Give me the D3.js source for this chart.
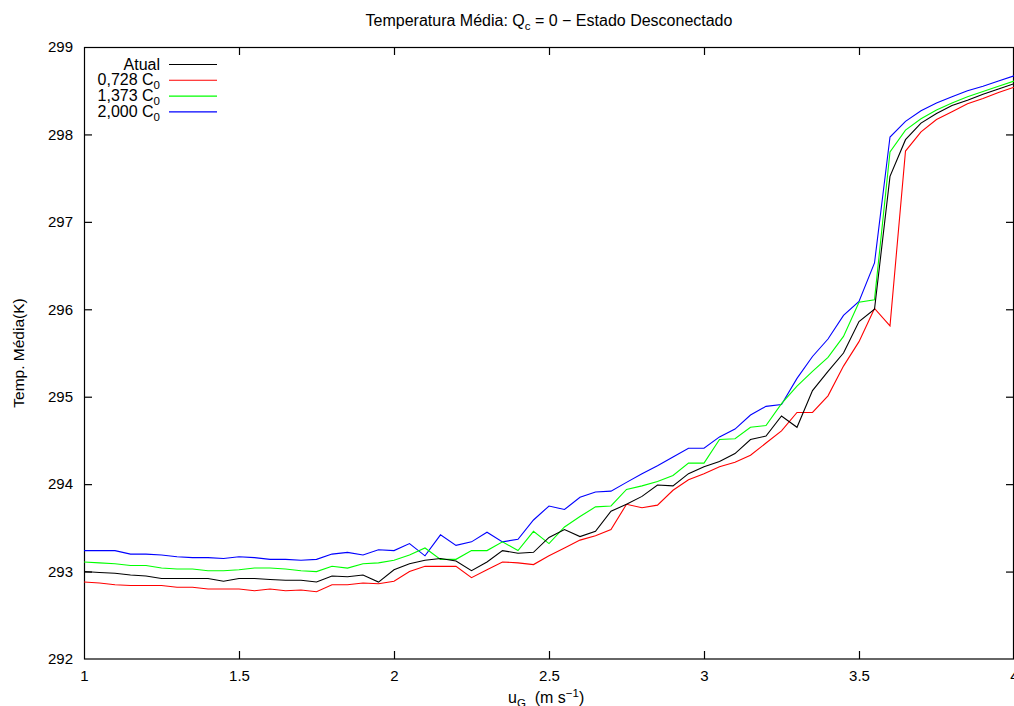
<!DOCTYPE html>
<html>
<head>
<meta charset="utf-8">
<script src="https://cdn.jsdelivr.net/npm/d3@7"></script>
<style>
  html, body { margin: 0; padding: 0; background: #fff; }
  svg { display: block; font-family: "Liberation Sans", Arial, Helvetica, sans-serif; }
</style>
</head>
<body>
<svg id="chart" width="1014" height="706"></svg>
<script>
// Wind speed samples u_G (m/s)
const uG = [
  1.00, 1.05, 1.10, 1.15, 1.20, 1.25, 1.30, 1.35, 1.40, 1.45,
  1.50, 1.55, 1.60, 1.65, 1.70, 1.75, 1.80, 1.85, 1.90, 1.95,
  2.00, 2.05, 2.10, 2.15, 2.20, 2.25, 2.30, 2.35, 2.40, 2.45,
  2.50, 2.55, 2.60, 2.65, 2.70, 2.75, 2.80, 2.85, 2.90, 2.95,
  3.00, 3.05, 3.10, 3.15, 3.20, 3.25, 3.30, 3.35, 3.40, 3.45,
  3.50, 3.55, 3.60, 3.65, 3.70, 3.75, 3.80, 3.85, 3.90, 3.95, 4.00
];

// Mean temperature (K), current coefficient
const atual = [
  293.00, 292.99, 292.98, 292.96, 292.95, 292.92, 292.92, 292.92, 292.92, 292.89,
  292.92, 292.92, 292.91, 292.90, 292.90, 292.88, 292.95, 292.94, 292.96, 292.88,
  293.02, 293.09, 293.13, 293.15, 293.12, 293.01, 293.11, 293.24, 293.21, 293.22,
  293.39, 293.48, 293.40, 293.46, 293.69, 293.77, 293.86, 293.99, 293.98, 294.12,
  294.20, 294.26, 294.35, 294.51, 294.55, 294.78, 294.65, 295.07, 295.29, 295.50,
  295.86, 296.00, 297.52, 297.94, 298.13, 298.24, 298.33, 298.39, 298.46, 298.52, 298.58
];

// 0,728 C0
const c0728 = [
  292.88, 292.87, 292.85, 292.84, 292.84, 292.84, 292.82, 292.82, 292.80, 292.80,
  292.80, 292.78, 292.80, 292.78, 292.79, 292.77, 292.85, 292.85, 292.87, 292.86,
  292.89, 293.00, 293.06, 293.06, 293.06, 292.93, 293.02, 293.11, 293.10, 293.08,
  293.18, 293.27, 293.36, 293.41, 293.48, 293.77, 293.73, 293.76, 293.93, 294.05,
  294.12, 294.20, 294.25, 294.33, 294.47, 294.61, 294.82, 294.82, 295.01, 295.35,
  295.63, 296.01, 295.81, 297.81, 298.03, 298.17, 298.26, 298.35, 298.41, 298.48, 298.54
];

// 1,373 C0
const c1373 = [
  293.11, 293.10, 293.09, 293.07, 293.07, 293.04, 293.03, 293.03, 293.01, 293.01,
  293.02, 293.04, 293.04, 293.03, 293.01, 293.00, 293.06, 293.04, 293.09, 293.10,
  293.13, 293.19, 293.27, 293.14, 293.14, 293.24, 293.24, 293.34, 293.24, 293.46,
  293.32, 293.51, 293.63, 293.74, 293.75, 293.94, 293.98, 294.03, 294.10, 294.24,
  294.24, 294.51, 294.52, 294.65, 294.67, 294.92, 295.12, 295.29, 295.45, 295.69,
  296.08, 296.11, 297.80, 298.05, 298.18, 298.28, 298.36, 298.43, 298.49, 298.55, 298.61
];

// 2,000 C0
const c2000 = [
  293.24, 293.24, 293.24, 293.20, 293.20, 293.19, 293.17, 293.16, 293.16, 293.15,
  293.17, 293.16, 293.14, 293.14, 293.13, 293.14, 293.20, 293.22, 293.19, 293.25,
  293.24, 293.32, 293.18, 293.42, 293.30, 293.34, 293.45, 293.34, 293.37, 293.59,
  293.75, 293.71, 293.85, 293.91, 293.92, 294.02, 294.12, 294.21, 294.31, 294.41,
  294.41, 294.54, 294.63, 294.79, 294.89, 294.91, 295.21, 295.46, 295.66, 295.93,
  296.09, 296.53, 297.97, 298.15, 298.27, 298.36, 298.43, 298.50, 298.55, 298.61, 298.67
];

const xTicks = [1, 1.5, 2, 2.5, 3, 3.5, 4];
const yTicks = [292, 293, 294, 295, 296, 297, 298, 299];

const series = [
  { name: "Atual", values: atual, color: "#000000" },
  { name: "0,728", values: c0728, color: "#ff0000" },
  { name: "1,373", values: c1373, color: "#00ff00" },
  { name: "2,000", values: c2000, color: "#0000ff" }
];

const svg = d3.select("#chart");

const x = d3.scaleLinear().domain([1, 4]).range([84, 1014]);
const y = d3.scaleLinear().domain([292, 299]).range([659, 47]);

const fontSize = 15;
const textSize = 16;
const subSize = 11.5;
const tickLen = 8;

// Title
const title = svg.append("text")
  .attr("x", 549).attr("y", 26)
  .attr("text-anchor", "middle")
  .attr("font-size", textSize)
  .attr("fill", "#000");
title.append("tspan").text("Temperatura Média: Q");
title.append("tspan").attr("font-size", subSize).attr("dy", 4).text("c");
title.append("tspan").attr("dy", -4).text(" = 0 \u2212 Estado Desconectado");

// Plot frame
svg.append("rect")
  .attr("x", 84.5).attr("y", 47.5)
  .attr("width", 1013.5 - 84.5).attr("height", 659 - 47.5)
  .attr("fill", "none").attr("stroke", "#000").attr("stroke-width", 1.2);

function styleAxis(g) {
  g.select(".domain").remove();
  g.selectAll("line").attr("stroke", "#000").attr("stroke-width", 1.2);
  g.selectAll("text").attr("font-size", fontSize).attr("fill", "#000")
    .attr("font-family", "'Liberation Sans', Arial, Helvetica, sans-serif");
}

// Bottom axis (ticks pointing into the plot)
svg.append("g").attr("transform", "translate(0,659)")
  .call(d3.axisBottom(x).tickValues(xTicks).tickFormat(d3.format("")).tickSizeInner(-tickLen).tickSizeOuter(0).tickPadding(11))
  .call(styleAxis)
  .call(g => g.selectAll(".tick").filter(d => d === 1 || d === 4).select("line").remove());

// Top axis mirror ticks
svg.append("g").attr("transform", "translate(0,47)")
  .call(d3.axisTop(x).tickValues(xTicks).tickFormat("").tickSizeInner(-tickLen).tickSizeOuter(0))
  .call(styleAxis)
  .call(g => g.selectAll(".tick").filter(d => d === 1 || d === 4).select("line").remove());

// Left axis
svg.append("g").attr("transform", "translate(84,0)")
  .call(d3.axisLeft(y).tickValues(yTicks).tickFormat(d3.format("d")).tickSizeInner(-tickLen).tickSizeOuter(0).tickPadding(11))
  .call(styleAxis)
  .call(g => g.selectAll(".tick").filter(d => d === 292 || d === 299).select("line").remove());

// Right axis mirror ticks
svg.append("g").attr("transform", "translate(1014,0)")
  .call(d3.axisRight(y).tickValues(yTicks).tickFormat("").tickSizeInner(-tickLen).tickSizeOuter(0))
  .call(styleAxis)
  .call(g => g.selectAll(".tick").filter(d => d === 292 || d === 299).select("line").remove());

// Axis titles
svg.append("text")
  .attr("transform", "translate(24,353) rotate(-90)")
  .attr("text-anchor", "middle")
  .attr("font-size", 15.5)
  .attr("fill", "#000")
  .text("Temp. Média(K)");

const xl = svg.append("text")
  .attr("x", 508).attr("y", 703)
  .attr("font-size", textSize)
  .attr("fill", "#000");
xl.append("tspan").text("u");
xl.append("tspan").attr("font-size", subSize).attr("dy", 4).text("G");
xl.append("tspan").attr("dy", -4).text("\u00a0\u00a0(m s");
xl.append("tspan").attr("font-size", subSize).attr("dy", -6).text("\u22121");
xl.append("tspan").attr("dy", 6).text(")");

// Series lines
const line = d3.line()
  .x((d, i) => x(uG[i]))
  .y(d => y(d));

const plot = svg.append("g");
[series[3], series[2], series[1], series[0]].forEach(s => {
  plot.append("path")
    .datum(s.values)
    .attr("fill", "none")
    .attr("stroke", s.color)
    .attr("stroke-width", 1.1)
    .attr("stroke-linejoin", "miter")
    .attr("d", line);
});

// Legend
const legend = svg.append("g");
series.forEach((s, i) => {
  const ly = 64.5 + i * 15.8;
  const t = legend.append("text")
    .attr("x", 160).attr("y", ly + 5)
    .attr("text-anchor", "end")
    .attr("font-size", textSize)
    .attr("fill", "#000");
  if (i === 0) {
    t.text(s.name);
  } else {
    t.append("tspan").text(s.name + " C");
    t.append("tspan").attr("font-size", subSize).attr("dy", 4).text("0");
  }
  legend.append("line")
    .attr("x1", 169).attr("x2", 217)
    .attr("y1", ly).attr("y2", ly)
    .attr("stroke", s.color).attr("stroke-width", 1.1);
});
</script>
</body>
</html>
